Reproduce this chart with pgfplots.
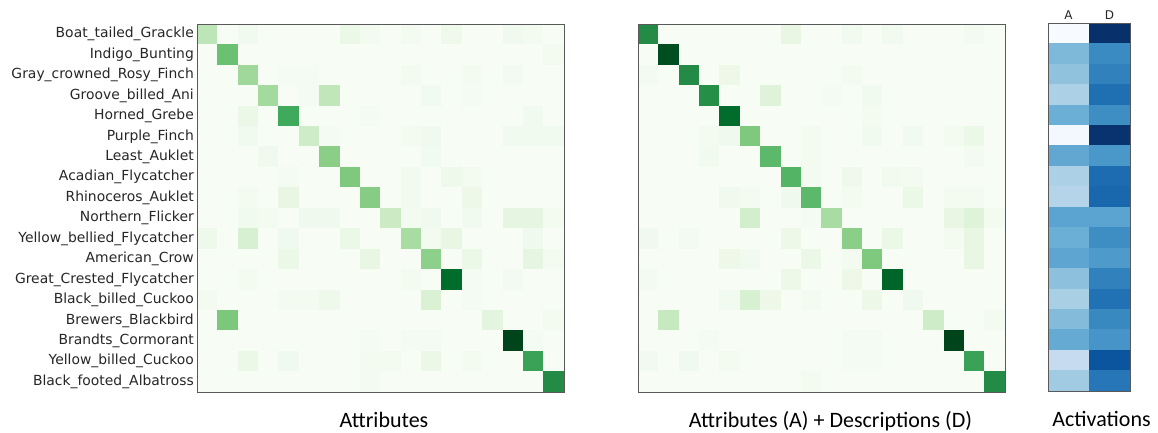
\documentclass[border=0pt]{standalone}
\usepackage{fontspec}
\usepackage{pgfplots}
\pgfplotsset{compat=1.18}
\newfontfamily\dejavu{DejaVu Sans}
\newfontfamily\calibri{Carlito}

\pgfplotsset{
  colormap={greens}{rgb255=(247,252,245) rgb255=(229,245,224) rgb255=(199,233,192) rgb255=(161,217,155) rgb255=(116,196,118) rgb255=(65,171,93) rgb255=(35,139,69) rgb255=(0,109,44) rgb255=(0,68,27)},
  colormap={blues}{rgb255=(247,251,255) rgb255=(222,235,247) rgb255=(198,219,239) rgb255=(158,202,225) rgb255=(107,174,214) rgb255=(66,146,198) rgb255=(33,113,181) rgb255=(8,81,156) rgb255=(8,48,107)},
  hm/.style={
    scale only axis, height=368pt,
    enlargelimits=false, axis on top,
    ymin=-0.5, ymax=17.5, y dir=reverse,
    xtick=\empty, ytick=\empty,
    point meta min=0, point meta max=1,
    axis line style={black!65, line width=0.8pt},
    major tick length=0pt,
    anchor=north west,
    xlabel style={font=\calibri\fontsize{22}{26}\selectfont, at={(axis description cs:0.5,0)}, anchor=base, yshift=-35pt},
  },
}

\begin{document}
\begin{tikzpicture}
\path[use as bounding box] (0pt,0pt) rectangle (1158pt,432pt);

% ---------- Attributes ----------
\begin{axis}[hm, at={(197pt,408pt)}, width=367pt, colormap name=greens,
  xmin=-0.5, xmax=17.5,
  ytick={0,...,17},
  yticklabels={Boat\_tailed\_Grackle, Indigo\_Bunting, Gray\_crowned\_Rosy\_Finch, Groove\_billed\_Ani, Horned\_Grebe, Purple\_Finch, Least\_Auklet, Acadian\_Flycatcher, Rhinoceros\_Auklet, Northern\_Flicker, Yellow\_bellied\_Flycatcher, American\_Crow, Great\_Crested\_Flycatcher, Black\_billed\_Cuckoo, Brewers\_Blackbird, Brandts\_Cormorant, Yellow\_billed\_Cuckoo, Black\_footed\_Albatross},
  yticklabel style={font=\dejavu\fontsize{13.9}{16}\selectfont, text=black!85, inner sep=3pt},
  xlabel={Attributes}, xlabel style={xshift=3.5pt}]
\addplot[matrix plot*, mesh/cols=18, point meta=explicit]
  table[row sep=\\, x expr={mod(\coordindex,18)}, y expr={floor((\coordindex+0.5)/18)}, meta=c] {
c \\
0.28 \\ 0 \\ 0.04 \\ 0 \\ 0 \\ 0 \\ 0 \\ 0.08 \\ 0.03 \\ 0 \\ 0.03 \\ 0 \\ 0.06 \\ 0 \\ 0 \\ 0.05 \\ 0.03 \\ 0 \\
0 \\ 0.52 \\ 0 \\ 0 \\ 0 \\ 0 \\ 0 \\ 0 \\ 0 \\ 0 \\ 0 \\ 0 \\ 0 \\ 0 \\ 0 \\ 0 \\ 0 \\ 0.03 \\
0 \\ 0 \\ 0.38 \\ 0 \\ 0.02 \\ 0.02 \\ 0 \\ 0 \\ 0 \\ 0 \\ 0.03 \\ 0 \\ 0 \\ 0.03 \\ 0 \\ 0.03 \\ 0 \\ 0 \\
0 \\ 0 \\ 0 \\ 0.37 \\ 0 \\ 0.02 \\ 0.27 \\ 0 \\ 0 \\ 0 \\ 0 \\ 0.04 \\ 0 \\ 0.02 \\ 0 \\ 0 \\ 0 \\ 0 \\
0 \\ 0 \\ 0.08 \\ 0 \\ 0.63 \\ 0 \\ 0 \\ 0 \\ 0.02 \\ 0 \\ 0 \\ 0 \\ 0 \\ 0 \\ 0 \\ 0 \\ 0.04 \\ 0 \\
0 \\ 0 \\ 0.04 \\ 0 \\ 0 \\ 0.22 \\ 0.02 \\ 0 \\ 0 \\ 0 \\ 0.03 \\ 0.05 \\ 0 \\ 0 \\ 0 \\ 0.04 \\ 0.04 \\ 0.04 \\
0 \\ 0 \\ 0 \\ 0.05 \\ 0 \\ 0 \\ 0.44 \\ 0 \\ 0 \\ 0 \\ 0 \\ 0.04 \\ 0 \\ 0 \\ 0 \\ 0 \\ 0 \\ 0 \\
0 \\ 0 \\ 0 \\ 0 \\ 0.02 \\ 0 \\ 0 \\ 0.47 \\ 0 \\ 0 \\ 0.04 \\ 0 \\ 0.06 \\ 0.03 \\ 0 \\ 0 \\ 0 \\ 0 \\
0 \\ 0 \\ 0.03 \\ 0 \\ 0.10 \\ 0 \\ 0 \\ 0 \\ 0.45 \\ 0 \\ 0.04 \\ 0 \\ 0 \\ 0.07 \\ 0 \\ 0 \\ 0 \\ 0 \\
0 \\ 0 \\ 0.04 \\ 0.03 \\ 0 \\ 0.05 \\ 0.05 \\ 0 \\ 0 \\ 0.23 \\ 0.03 \\ 0.05 \\ 0 \\ 0.04 \\ 0 \\ 0.12 \\ 0.12 \\ 0.03 \\
0.06 \\ 0 \\ 0.18 \\ 0 \\ 0.05 \\ 0 \\ 0 \\ 0.08 \\ 0 \\ 0 \\ 0.35 \\ 0.03 \\ 0.10 \\ 0 \\ 0 \\ 0 \\ 0.05 \\ 0 \\
0 \\ 0 \\ 0 \\ 0 \\ 0.08 \\ 0 \\ 0 \\ 0 \\ 0.10 \\ 0 \\ 0 \\ 0.43 \\ 0 \\ 0.08 \\ 0 \\ 0 \\ 0.12 \\ 0.03 \\
0 \\ 0 \\ 0.03 \\ 0 \\ 0 \\ 0 \\ 0 \\ 0 \\ 0 \\ 0 \\ 0.03 \\ 0 \\ 0.875 \\ 0.02 \\ 0 \\ 0.03 \\ 0 \\ 0 \\
0.03 \\ 0 \\ 0 \\ 0 \\ 0.03 \\ 0.03 \\ 0.06 \\ 0 \\ 0 \\ 0 \\ 0 \\ 0.17 \\ 0 \\ 0.02 \\ 0 \\ 0 \\ 0 \\ 0 \\
0 \\ 0.48 \\ 0 \\ 0 \\ 0 \\ 0 \\ 0 \\ 0 \\ 0 \\ 0 \\ 0 \\ 0 \\ 0 \\ 0 \\ 0.13 \\ 0 \\ 0 \\ 0.03 \\
0 \\ 0 \\ 0 \\ 0 \\ 0 \\ 0 \\ 0 \\ 0 \\ 0.02 \\ 0 \\ 0.02 \\ 0.02 \\ 0 \\ 0 \\ 0 \\ 1.0 \\ 0.02 \\ 0 \\
0 \\ 0 \\ 0.08 \\ 0 \\ 0.05 \\ 0 \\ 0 \\ 0 \\ 0.03 \\ 0.03 \\ 0 \\ 0.08 \\ 0 \\ 0.03 \\ 0 \\ 0 \\ 0.66 \\ 0 \\
0 \\ 0 \\ 0 \\ 0 \\ 0 \\ 0 \\ 0 \\ 0 \\ 0.03 \\ 0 \\ 0 \\ 0 \\ 0 \\ 0 \\ 0 \\ 0 \\ 0 \\ 0.75 \\
};
\end{axis}

% ---------- Attributes (A) + Descriptions (D) ----------
\begin{axis}[hm, at={(638pt,408pt)}, width=367pt, colormap name=greens,
  xmin=-0.5, xmax=17.5,
  xlabel={Attributes (A) + Descriptions (D)}, xlabel style={xshift=9pt}]
\addplot[matrix plot*, mesh/cols=18, point meta=explicit]
  table[row sep=\\, x expr={mod(\coordindex,18)}, y expr={floor((\coordindex+0.5)/18)}, meta=c] {
c \\
0.75 \\ 0 \\ 0 \\ 0 \\ 0 \\ 0 \\ 0 \\ 0.10 \\ 0 \\ 0 \\ 0.04 \\ 0 \\ 0.04 \\ 0 \\ 0 \\ 0 \\ 0.03 \\ 0 \\
0 \\ 0.97 \\ 0 \\ 0 \\ 0 \\ 0 \\ 0 \\ 0 \\ 0 \\ 0 \\ 0 \\ 0 \\ 0 \\ 0 \\ 0 \\ 0 \\ 0 \\ 0 \\
0.03 \\ 0 \\ 0.75 \\ 0 \\ 0.07 \\ 0 \\ 0 \\ 0 \\ 0 \\ 0 \\ 0.03 \\ 0 \\ 0 \\ 0 \\ 0 \\ 0 \\ 0 \\ 0 \\
0 \\ 0 \\ 0 \\ 0.74 \\ 0 \\ 0 \\ 0.15 \\ 0 \\ 0 \\ 0.02 \\ 0 \\ 0.04 \\ 0 \\ 0 \\ 0 \\ 0 \\ 0 \\ 0 \\
0 \\ 0 \\ 0 \\ 0 \\ 0.875 \\ 0 \\ 0 \\ 0 \\ 0 \\ 0 \\ 0 \\ 0.03 \\ 0 \\ 0 \\ 0 \\ 0 \\ 0 \\ 0 \\
0 \\ 0 \\ 0 \\ 0.03 \\ 0.05 \\ 0.47 \\ 0 \\ 0 \\ 0.03 \\ 0 \\ 0 \\ 0.04 \\ 0 \\ 0.04 \\ 0 \\ 0.03 \\ 0.08 \\ 0 \\
0 \\ 0 \\ 0 \\ 0.04 \\ 0 \\ 0 \\ 0.56 \\ 0 \\ 0.03 \\ 0 \\ 0 \\ 0 \\ 0 \\ 0 \\ 0 \\ 0 \\ 0.03 \\ 0 \\
0 \\ 0 \\ 0 \\ 0 \\ 0 \\ 0 \\ 0 \\ 0.58 \\ 0.03 \\ 0 \\ 0.06 \\ 0 \\ 0.04 \\ 0.03 \\ 0 \\ 0 \\ 0 \\ 0 \\
0 \\ 0 \\ 0 \\ 0 \\ 0.05 \\ 0.03 \\ 0 \\ 0.05 \\ 0.56 \\ 0 \\ 0.03 \\ 0 \\ 0 \\ 0.08 \\ 0 \\ 0.03 \\ 0.03 \\ 0 \\
0 \\ 0 \\ 0 \\ 0 \\ 0 \\ 0.20 \\ 0 \\ 0 \\ 0.02 \\ 0.35 \\ 0 \\ 0 \\ 0 \\ 0 \\ 0 \\ 0.10 \\ 0.15 \\ 0.03 \\
0.05 \\ 0 \\ 0.03 \\ 0 \\ 0 \\ 0 \\ 0 \\ 0.07 \\ 0 \\ 0 \\ 0.44 \\ 0 \\ 0.08 \\ 0 \\ 0 \\ 0.03 \\ 0.10 \\ 0 \\
0 \\ 0 \\ 0 \\ 0 \\ 0.07 \\ 0.04 \\ 0 \\ 0 \\ 0.08 \\ 0 \\ 0.03 \\ 0.47 \\ 0 \\ 0 \\ 0 \\ 0 \\ 0.10 \\ 0 \\
0.03 \\ 0 \\ 0 \\ 0 \\ 0 \\ 0 \\ 0 \\ 0.07 \\ 0 \\ 0 \\ 0.07 \\ 0 \\ 0.90 \\ 0 \\ 0 \\ 0 \\ 0 \\ 0 \\
0 \\ 0 \\ 0 \\ 0 \\ 0.04 \\ 0.18 \\ 0.07 \\ 0 \\ 0.03 \\ 0 \\ 0 \\ 0.07 \\ 0 \\ 0.05 \\ 0 \\ 0 \\ 0 \\ 0 \\
0 \\ 0.25 \\ 0 \\ 0 \\ 0 \\ 0 \\ 0 \\ 0 \\ 0 \\ 0 \\ 0 \\ 0 \\ 0 \\ 0 \\ 0.22 \\ 0 \\ 0 \\ 0.03 \\
0 \\ 0 \\ 0 \\ 0.02 \\ 0 \\ 0 \\ 0 \\ 0 \\ 0 \\ 0 \\ 0.02 \\ 0.02 \\ 0 \\ 0 \\ 0 \\ 1.0 \\ 0 \\ 0 \\
0.04 \\ 0 \\ 0.05 \\ 0 \\ 0.03 \\ 0 \\ 0 \\ 0 \\ 0 \\ 0 \\ 0.02 \\ 0.02 \\ 0 \\ 0 \\ 0 \\ 0 \\ 0.66 \\ 0 \\
0 \\ 0 \\ 0 \\ 0 \\ 0 \\ 0 \\ 0 \\ 0 \\ 0.03 \\ 0 \\ 0 \\ 0 \\ 0 \\ 0 \\ 0 \\ 0 \\ 0 \\ 0.75 \\
};
\end{axis}

% ---------- Activations ----------
\begin{axis}[hm, at={(1048pt,409pt)}, width=82pt, colormap name=blues,
  xmin=-0.5, xmax=1.5,
  xtick={0,1}, xticklabels={A,D}, xticklabel pos=upper,
  xticklabel style={font=\dejavu\fontsize{12}{14}\selectfont, text=black!85},
  xlabel={Activations}, xlabel style={xshift=12.5pt}]
\addplot[matrix plot*, mesh/cols=2, point meta=explicit]
  table[row sep=\\, x expr={mod(\coordindex,2)}, y expr={floor((\coordindex+0.5)/2)}, meta=c] {
c \\
0.00 \\ 1.00 \\
0.45 \\ 0.65 \\
0.41 \\ 0.69 \\
0.33 \\ 0.76 \\
0.50 \\ 0.64 \\
0.02 \\ 0.99 \\
0.53 \\ 0.60 \\
0.33 \\ 0.77 \\
0.30 \\ 0.79 \\
0.55 \\ 0.55 \\
0.50 \\ 0.64 \\
0.54 \\ 0.59 \\
0.42 \\ 0.69 \\
0.34 \\ 0.75 \\
0.44 \\ 0.66 \\
0.52 \\ 0.61 \\
0.25 \\ 0.86 \\
0.37 \\ 0.73 \\
};
\end{axis}
\end{tikzpicture}
\end{document}
